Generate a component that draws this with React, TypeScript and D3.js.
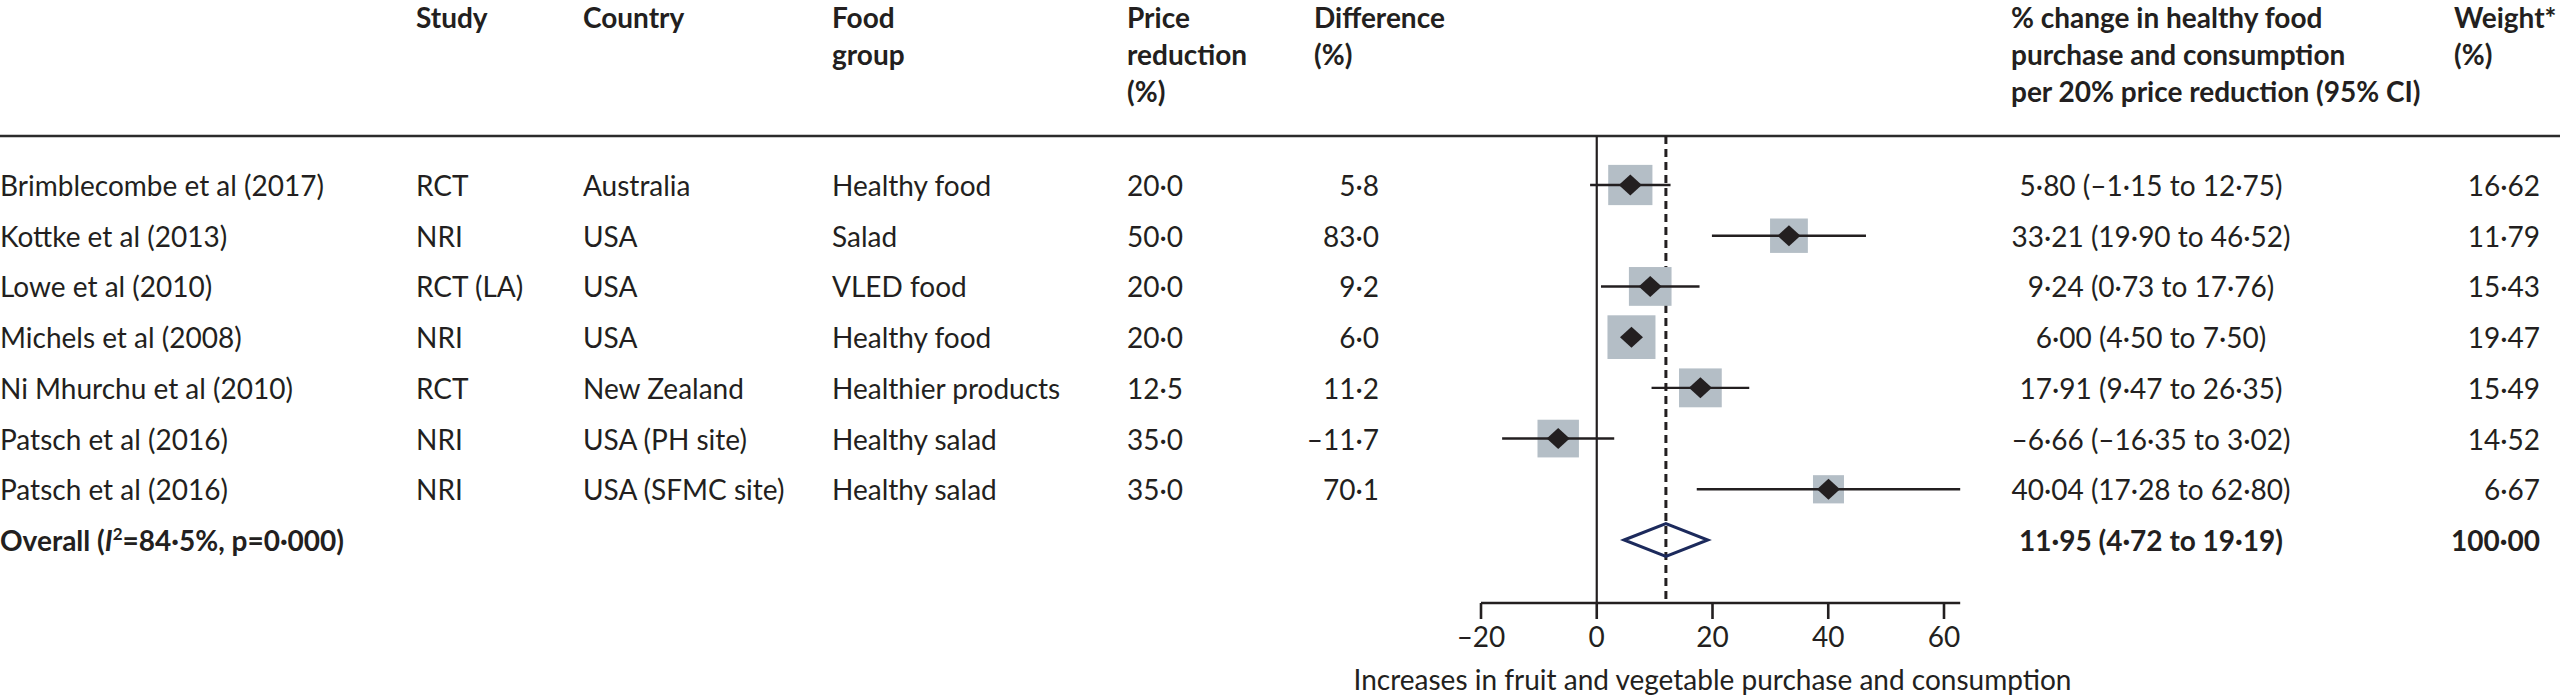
import React from 'react';
import * as d3 from 'd3';

// study rows
const studies = [
    'Brimblecombe et al (2017)',
    'Kottke et al (2013)',
    'Lowe et al (2010)',
    'Michels et al (2008)',
    'Ni Mhurchu et al (2010)',
    'Patsch et al (2016)',
    'Patsch et al (2016)',
];
const designs = ['RCT', 'NRI', 'RCT (LA)', 'NRI', 'RCT', 'NRI', 'NRI'];
const countries = ['Australia', 'USA', 'USA', 'USA', 'New Zealand', 'USA (PH site)', 'USA (SFMC site)'];
const foodGroups = ['Healthy food', 'Salad', 'VLED food', 'Healthy food', 'Healthier products', 'Healthy salad', 'Healthy salad'];
const priceReductions = [20.0, 50.0, 20.0, 20.0, 12.5, 35.0, 35.0];
const differences = [5.8, 83.0, 9.2, 6.0, 11.2, -11.7, 70.1];
const estimates = [5.80, 33.21, 9.24, 6.00, 17.91, -6.66, 40.04];
const lowers = [-1.15, 19.90, 0.73, 4.50, 9.47, -16.35, 17.28];
const uppers = [12.75, 46.52, 17.76, 7.50, 26.35, 3.02, 62.80];
const weights = [16.62, 11.79, 15.43, 19.47, 15.49, 14.52, 6.67];

// pooled result
const overallEstimate = 11.95;
const overallLower = 4.72;
const overallUpper = 19.19;
const overallWeight = 100.0;
const overallI2 = 84.5;
const overallP = 0.0;

const xTicks = [-20, 0, 20, 40, 60];

const headerStudy = ['Study'];
const headerCountry = ['Country'];
const headerFood = ['Food', 'group'];
const headerPrice = ['Price', 'reduction', '(%)'];
const headerDiff = ['Difference', '(%)'];
const headerEstimate = ['% change in healthy food', 'purchase and consumption', 'per 20% price reduction (95% CI)'];
const headerWeight = ['Weight*', '(%)'];

const axisTitle = 'Increases in fruit and vegetable purchase and consumption';

const W = 2560;
const H = 698;
const FONT = 'Lato, "Open Sans", sans-serif';
const FS = 28;
const INK = '#231f20';

// lancet style numbers: middle dot and en dash
const fmt = (v: number, d: number) => (v < 0 ? '\u2013' : '') + Math.abs(v).toFixed(d).replace('.', '\u00b7');

const col = {
    name: 0,
    design: 416,
    country: 583,
    food: 832,
    price: 1127,
    diffHead: 1314,
    diffRight: 1379,
    estHead: 2011,
    estMid: 2151,
    weightHead: 2454,
    weightRight: 2540,
};

const App: React.FC = () => {
    const x = d3.scaleLinear().domain([-20, d3.max(uppers) as number]).range([1481, 1960.2]);
    const rows = d3.range(studies.length + 1);
    const y = d3.scalePoint<number>().domain(rows).range([185, 540]);
    const boxW = d3.scaleLinear().domain([6.67, 19.47]).range([31, 48]);

    const topLine = 136;
    const axisY = 603;
    const base = 11;
    const overallRow = studies.length;
    const yo = y(overallRow) as number;

    const headerLines = (lines: string[], xx: number) =>
        lines.map((t, i) => (
            <text key={t + i} x={xx} y={28 + i * 37} fontWeight={700}>{t}</text>
        ));

    const diamondPts = [
        [x(overallLower), yo],
        [x(overallEstimate), yo - 16.5],
        [x(overallUpper), yo],
        [x(overallEstimate), yo + 16.5],
    ].map(p => p.join(',')).join(' ');

    return (
        <svg width={W} height={H} style={{ position: 'absolute', left: 0, top: 0, background: '#fff' }}
            fontFamily={FONT} fontSize={FS} fill={INK}>
            {/* headers */}
            {headerLines(headerStudy, col.design)}
            {headerLines(headerCountry, col.country)}
            {headerLines(headerFood, col.food)}
            {headerLines(headerPrice, col.price)}
            {headerLines(headerDiff, col.diffHead)}
            {headerLines(headerEstimate, col.estHead)}
            {headerLines(headerWeight, col.weightHead)}

            <line x1={0} x2={W} y1={topLine} y2={topLine} stroke="#2b2b2b" strokeWidth={2.6} />

            {/* reference lines */}
            <line x1={x(0)} x2={x(0)} y1={topLine} y2={axisY} stroke={INK} strokeWidth={2.2} />
            <line x1={x(overallEstimate)} x2={x(overallEstimate)} y1={topLine} y2={axisY}
                stroke={INK} strokeWidth={3} strokeDasharray="8,5" />

            {/* study rows */}
            {studies.map((s, i) => {
                const yc = y(i) as number;
                const bw = boxW(weights[i]);
                const bh = bw * 0.91;
                const cx = x(estimates[i]);
                return (
                    <g key={i}>
                        <text x={col.name} y={yc + base}>{s}</text>
                        <text x={col.design} y={yc + base}>{designs[i]}</text>
                        <text x={col.country} y={yc + base}>{countries[i]}</text>
                        <text x={col.food} y={yc + base}>{foodGroups[i]}</text>
                        <text x={col.price} y={yc + base}>{fmt(priceReductions[i], 1)}</text>
                        <text x={col.diffRight} y={yc + base} textAnchor="end">{fmt(differences[i], 1)}</text>
                        <rect x={cx - bw / 2} y={yc - bh / 2} width={bw} height={bh} fill="#b4bec6" />
                        <line x1={x(lowers[i])} x2={x(uppers[i])} y1={yc} y2={yc} stroke={INK} strokeWidth={2.4} />
                        <path d={`M${cx - 11.5},${yc} L${cx},${yc - 10.5} L${cx + 11.5},${yc} L${cx},${yc + 10.5} Z`} fill={INK} />
                        <text x={col.estMid} y={yc + base} textAnchor="middle">
                            {`${fmt(estimates[i], 2)} (${fmt(lowers[i], 2)} to ${fmt(uppers[i], 2)})`}
                        </text>
                        <text x={col.weightRight} y={yc + base} textAnchor="end">{fmt(weights[i], 2)}</text>
                    </g>
                );
            })}

            {/* overall row */}
            <g fontWeight={700}>
                <text x={col.name} y={yo + base}>
                    Overall (<tspan fontStyle="italic">I</tspan>
                    <tspan fontSize={17} dy={-11}>2</tspan>
                    <tspan dy={11}>={fmt(overallI2, 1)}%, p={fmt(overallP, 3)})</tspan>
                </text>
                <text x={col.estMid} y={yo + base} textAnchor="middle">
                    {`${fmt(overallEstimate, 2)} (${fmt(overallLower, 2)} to ${fmt(overallUpper, 2)})`}
                </text>
                <text x={col.weightRight} y={yo + base} textAnchor="end">{fmt(overallWeight, 2)}</text>
            </g>
            <polygon points={diamondPts} fill="none" stroke="#1c2a5c" strokeWidth={3} />

            {/* x axis */}
            <line x1={x.range()[0]} x2={x.range()[1]} y1={axisY} y2={axisY} stroke={INK} strokeWidth={2.4} />
            {xTicks.map(t => (
                <g key={t}>
                    <line x1={x(t)} x2={x(t)} y1={axisY} y2={axisY + 16} stroke={INK} strokeWidth={2.6} />
                    <text x={x(t)} y={647} textAnchor="middle">{fmt(t, 0)}</text>
                </g>
            ))}
            <text x={x(20)} y={690} textAnchor="middle">{axisTitle}</text>
        </svg>
    );
};

export default App;
